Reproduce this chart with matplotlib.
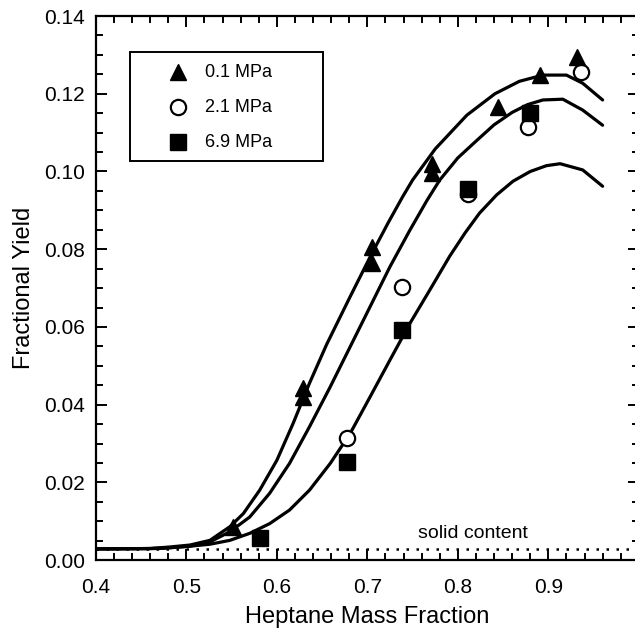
import numpy as np
import matplotlib
matplotlib.use('Agg')
import matplotlib.pyplot as plt
from matplotlib.patches import Rectangle
from matplotlib.ticker import MultipleLocator, FixedLocator, FormatStrFormatter

plt.rcParams['font.family'] = ['Liberation Sans', 'DejaVu Sans']

# === Measured points ===
x_01 = [0.552, 0.629, 0.629, 0.705, 0.705, 0.772, 0.772, 0.844, 0.891, 0.932]
y_01 = [0.0085, 0.0443, 0.0419, 0.0805, 0.0764, 0.102, 0.0996, 0.1166, 0.1248, 0.1294]

x_21 = [0.677, 0.738, 0.811, 0.878, 0.936]
y_21 = [0.0314, 0.0703, 0.0943, 0.1115, 0.1256]

x_69 = [0.581, 0.677, 0.738, 0.811, 0.880]
y_69 = [0.0058, 0.0252, 0.0592, 0.0955, 0.115]

# === Model curves ===
cx_01 = [0.40, 0.46, 0.482, 0.504, 0.526, 0.548, 0.563, 0.581, 0.600, 0.618, 0.636,
         0.655, 0.681, 0.703, 0.723, 0.739, 0.750, 0.775, 0.810, 0.841, 0.868,
         0.894, 0.920, 0.938, 0.960]
cy_01 = [0.0029, 0.0030, 0.0034, 0.0039, 0.0051, 0.0086, 0.0120, 0.0180, 0.0257, 0.0352, 0.0455,
         0.0555, 0.0678, 0.0780, 0.0868, 0.0935, 0.0978, 0.1058, 0.1145, 0.1200, 0.1232,
         0.1248, 0.1248, 0.1227, 0.1184]

cx_21 = [0.40, 0.46, 0.482, 0.504, 0.526, 0.548, 0.570, 0.592, 0.614, 0.636, 0.659,
         0.681, 0.703, 0.725, 0.747, 0.766, 0.780, 0.800, 0.821, 0.840, 0.860, 0.877,
         0.894, 0.916, 0.938, 0.960]
cy_21 = [0.0029, 0.0030, 0.0032, 0.0036, 0.0047, 0.0073, 0.0111, 0.0172, 0.0249, 0.0343, 0.0446,
         0.0549, 0.0652, 0.0755, 0.0849, 0.0926, 0.0978, 0.1035, 0.1080, 0.1120, 0.1152, 0.1172,
         0.1184, 0.1186, 0.1158, 0.1119]

cx_69 = [0.40, 0.47, 0.504, 0.526, 0.548, 0.570, 0.592, 0.614, 0.636, 0.659, 0.681,
         0.703, 0.725, 0.747, 0.769, 0.791, 0.808, 0.824, 0.843, 0.861, 0.880, 0.898,
         0.913, 0.938, 0.960]
cy_69 = [0.0029, 0.0030, 0.0036, 0.0041, 0.0051, 0.0069, 0.0094, 0.0129, 0.0180, 0.0249, 0.0326,
         0.0420, 0.0515, 0.0609, 0.0695, 0.0782, 0.0842, 0.0893, 0.0940, 0.0975, 0.1000, 0.1015,
         0.1020, 0.1004, 0.0962]

solid_content = 0.0028
labels = ['0.1 MPa', '2.1 MPa', '6.9 MPa']

# === Figure ===
fig = plt.figure(figsize=(6.35, 6.28), dpi=100)
ax = fig.add_axes([0.151, 0.108, 0.855, 0.8665])

ax.axhline(solid_content, color='black', lw=1.8, ls=(0, (1, 3)))
for cx, cy in [(cx_01, cy_01), (cx_21, cy_21), (cx_69, cy_69)]:
    ax.plot(cx, cy, color='black', lw=2.3, solid_capstyle='round', solid_joinstyle='round')

ax.plot(x_21, y_21, 'o', ms=11, mfc='white', mec='black', mew=1.6)
ax.plot(x_69, y_69, 's', ms=12, color='black')
ax.plot(x_01, y_01, '^', ms=12, color='black')

ax.text(0.8166, 0.0058, 'solid content', fontsize=14, ha='center', va='baseline')

ax.set_xlim(0.4, 1.0)
ax.set_ylim(0, 0.14)
ax.xaxis.set_major_locator(FixedLocator([0.4, 0.5, 0.6, 0.7, 0.8, 0.9]))
ax.xaxis.set_minor_locator(MultipleLocator(0.02))
ax.yaxis.set_major_locator(MultipleLocator(0.02))
ax.yaxis.set_minor_locator(MultipleLocator(0.005))
ax.xaxis.set_major_formatter(FormatStrFormatter('%.1f'))
ax.yaxis.set_major_formatter(FormatStrFormatter('%.2f'))
ax.tick_params(which='both', direction='in', top=True, right=True, width=1.4, labelsize=15)
ax.tick_params(which='major', length=8)
ax.tick_params(which='minor', length=5)
ax.tick_params(axis='x', which='major', pad=13)
ax.tick_params(axis='y', which='major', pad=8)
for s in ax.spines.values():
    s.set_linewidth(1.6)

ax.set_xlabel('Heptane Mass Fraction', fontsize=17, labelpad=6)
ax.set_ylabel('Fractional Yield', fontsize=17, labelpad=6)

# === Legend box ===
ax.add_patch(Rectangle((0.0626, 0.7335), 0.3554, 0.2005, transform=ax.transAxes,
                       fill=False, edgecolor='black', lw=1.4, zorder=5))
leg_style = [dict(marker='^', ms=12, color='black'),
             dict(marker='o', ms=11, mfc='white', mec='black', mew=1.6),
             dict(marker='s', ms=12, color='black')]
for lab, st, ly in zip(labels, leg_style, [0.897, 0.8327, 0.768]):
    ax.plot([0.151], [ly], transform=ax.transAxes, ls='none', zorder=6, **st)
    ax.text(0.2007, ly, lab, transform=ax.transAxes, fontsize=13, va='center', ha='left')

plt.savefig('out.png', dpi=100)
